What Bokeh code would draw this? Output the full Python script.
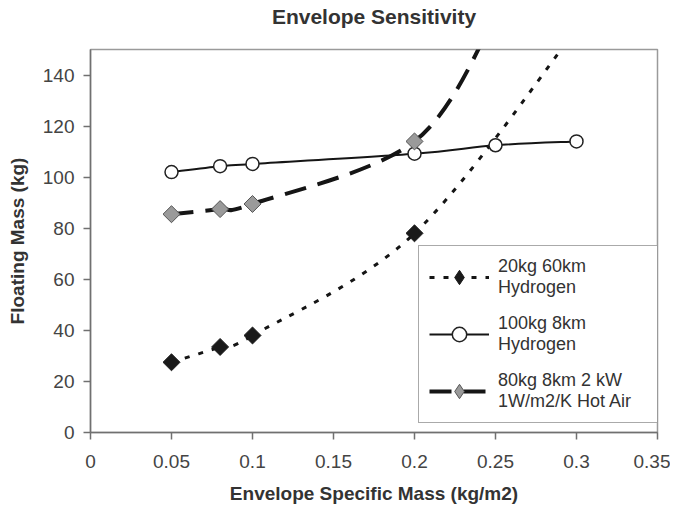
import numpy as np
from bokeh.plotting import figure
from bokeh.models import Range1d, FixedTicker, Legend, LegendItem, ColumnDataSource, Title
from bokeh.embed import file_html
from bokeh.resources import INLINE

# ---------------- data ----------------
title_text = "Envelope Sensitivity"
x_label = "Envelope Specific Mass (kg/m2)"
y_label = "Floating Mass (kg)"

x_ticks = [0, 0.05, 0.1, 0.15, 0.2, 0.25, 0.3, 0.35]
x_tick_labels = ["0", "0.05", "0.1", "0.15", "0.2", "0.25", "0.3", "0.35"]
y_ticks = [0, 20, 40, 60, 80, 100, 120, 140]

s1_name = "20kg 60km\nHydrogen"
s1_x = [0.05, 0.08, 0.1, 0.2, 0.3]
s1_y = [27.5, 33.5, 38, 78, 158]

s2_name = "100kg 8km\nHydrogen"
s2_x = [0.05, 0.08, 0.1, 0.2, 0.25, 0.3]
s2_y = [102, 104.3, 105.2, 109.2, 112.5, 114]

s3_name = "80kg 8km 2 kW\n1W/m2/K Hot Air"
s3_x = [0.05, 0.08, 0.1, 0.2, 0.25]
s3_y = [85.5, 87.5, 89.5, 114, 163]

FONT = "Liberation Sans"


def smooth_source(xs, ys, k=1.0 / 6.0):
    """Bezier control points for a smoothed line through the data points."""
    n = len(xs)
    d = dict(x0=[], y0=[], x1=[], y1=[], cx0=[], cy0=[], cx1=[], cy1=[])
    for i in range(n - 1):
        a = max(i - 1, 0)
        b = min(i + 2, n - 1)
        d["x0"].append(xs[i]); d["y0"].append(ys[i])
        d["x1"].append(xs[i + 1]); d["y1"].append(ys[i + 1])
        d["cx0"].append(xs[i] + (xs[i + 1] - xs[a]) * k)
        d["cy0"].append(ys[i] + (ys[i + 1] - ys[a]) * k)
        d["cx1"].append(xs[i + 1] - (xs[b] - xs[i]) * k)
        d["cy1"].append(ys[i + 1] - (ys[b] - ys[i]) * k)
    return ColumnDataSource(d)


p = figure(width=670, height=510, output_backend="svg", toolbar_location=None,
           x_range=Range1d(0, 0.35), y_range=Range1d(0, 150),
           min_border_left=90, min_border_right=13, min_border_top=48,
           min_border_bottom=78)

p.background_fill_color = "white"
p.border_fill_color = "white"
p.outline_line_color = "#9a9a9a"
p.outline_line_width = 1.5
p.xgrid.visible = False
p.ygrid.visible = False

# title
p.title.text = title_text
p.title.text_font = FONT
p.title.text_font_size = "21px"
p.title.text_font_style = "bold"
p.title.text_color = "#333333"
p.title.align = "center"
p.title.vertical_align = "top"
p.title.standoff = 9
# small blank band between the title and the plot area
p.add_layout(Title(text=" ", text_font_size="7px", standoff=6), "above")

# axes
for ax in (p.xaxis[0], p.yaxis[0]):
    ax.axis_line_color = "#707070"
    ax.axis_line_width = 1.5
    ax.major_tick_line_color = "#707070"
    ax.major_tick_line_width = 1.5
    ax.major_tick_out = 7
    ax.major_tick_in = 0
    ax.minor_tick_line_color = None
    ax.major_label_text_font = FONT
    ax.major_label_text_font_size = "19px"
    ax.major_label_text_color = "#444444"
    ax.axis_label_text_font = FONT
    ax.axis_label_text_font_size = "19px"
    ax.axis_label_text_font_style = "bold"
    ax.axis_label_text_color = "#333333"

p.xaxis.ticker = FixedTicker(ticks=x_ticks)
p.xaxis.major_label_overrides = dict(zip(x_ticks, x_tick_labels))
p.yaxis.ticker = FixedTicker(ticks=y_ticks)
p.xaxis.axis_label = x_label
p.yaxis.axis_label = y_label
p.xaxis.major_label_standoff = 15
p.xaxis.axis_label_standoff = 12
p.yaxis.major_label_standoff = 9
p.yaxis.axis_label_standoff = 12

LINE = "#151515"
# series 1: dotted, black diamonds
r1l = p.bezier(x0="x0", y0="y0", x1="x1", y1="y1", cx0="cx0", cy0="cy0", cx1="cx1", cy1="cy1",
               source=smooth_source(s1_x, s1_y), line_color=LINE, line_width=3,
               line_dash="5 9")
# series 2: solid, white circles
r2l = p.bezier(x0="x0", y0="y0", x1="x1", y1="y1", cx0="cx0", cy0="cy0", cx1="cx1", cy1="cy1",
               source=smooth_source(s2_x, s2_y), line_color=LINE, line_width=2)
# series 3: long dashes, gray diamonds
r3l = p.bezier(x0="x0", y0="y0", x1="x1", y1="y1", cx0="cx0", cy0="cy0", cx1="cx1", cy1="cy1",
               source=smooth_source(s3_x, s3_y), line_color=LINE, line_width=4,
               line_dash="22 12")

s1_style = dict(fill_color="#1a1a1a", line_color="#1a1a1a", line_width=1)
s2_style = dict(fill_color="white", line_color="#222222", line_width=1.5)
s3_style = dict(fill_color="#9a9a9a", line_color="#555555", line_width=1)

# legend symbols: the legend never rotates markers, so it takes its diamond
# from these (drawn beneath the rotated-square markers, which cover them)
k1 = p.scatter(s1_x, s1_y, marker="diamond", size=10, **s1_style)
k3 = p.scatter(s3_x, s3_y, marker="diamond", size=10, **s3_style)

r1m = p.scatter(s1_x, s1_y, marker="square", angle=np.pi / 4, size=12, **s1_style)
r2m = p.scatter(s2_x, s2_y, marker="circle", size=13, **s2_style)
r3m = p.scatter(s3_x, s3_y, marker="square", angle=np.pi / 4, size=12, **s3_style)

legend = Legend(items=[
    LegendItem(label=s1_name, renderers=[r1l, k1]),
    LegendItem(label=s2_name, renderers=[r2l, r2m]),
    LegendItem(label=s3_name, renderers=[r3l, k3]),
], location=(328, 9))
legend.label_text_font = FONT
legend.label_text_font_size = "18px"
legend.label_text_color = "#333333"
legend.glyph_width = 60
legend.glyph_height = 36
legend.label_standoff = 9
legend.label_width = 150
legend.padding = 10
legend.spacing = 15
legend.margin = 0
legend.border_line_color = "#555555"
legend.border_line_width = 1.5
legend.background_fill_color = "white"
legend.background_fill_alpha = 1.0
p.add_layout(legend)

open("out.html", "w").write(file_html(p, INLINE))
